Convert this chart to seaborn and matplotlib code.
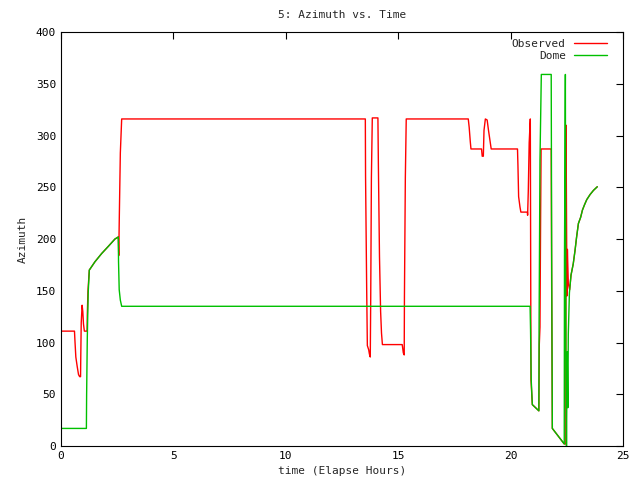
import matplotlib
matplotlib.use("Agg")
import matplotlib.pyplot as plt
import seaborn as sns
import pandas as pd

# ---- data (hours, degrees) ----
obs_t = [0.00, 0.60, 0.62, 0.66, 0.72, 0.78, 0.83, 0.87, 0.88, 0.90, 0.94, 0.97, 1.00, 1.04,
         1.16, 1.17, 1.20, 1.26, 1.51, 1.81, 2.11, 2.40, 2.55, 2.57, 2.59, 2.64, 2.70,
         13.54, 13.55, 13.60, 13.63, 13.69, 13.72, 13.76, 13.78, 13.81, 13.85,
         14.10, 14.12, 14.17, 14.22, 14.26, 14.30, 15.18, 15.20, 15.23, 15.27, 15.28, 15.32, 15.36,
         18.12, 18.16, 18.21, 18.24, 18.71, 18.74, 18.79, 18.82, 18.88, 18.96, 19.02, 19.08, 19.14,
         20.31, 20.33, 20.36, 20.42, 20.46, 20.75, 20.76, 20.79, 20.83, 20.88, 20.91, 20.97,
         21.26, 21.28, 21.31, 21.34, 21.36, 21.81, 21.83, 21.86, 22.39, 22.46, 22.47, 22.49,
         22.51, 22.53, 22.57, 22.63, 22.69, 22.79, 22.87, 22.94, 23.02, 23.12, 23.20, 23.29,
         23.39, 23.54, 23.69, 23.86]
obs_az = [111, 111, 102, 86, 77, 69, 67, 67, 86, 119, 136, 130, 118, 111,
          111, 126, 150, 170, 178, 186, 193, 200, 202, 184, 215, 283, 316,
          316, 261, 152, 97, 93, 89, 86, 143, 259, 317,
          317, 273, 183, 130, 109, 98, 98, 95, 90, 88, 144, 259, 316,
          316, 308, 294, 287, 287, 280, 280, 305, 316, 315, 305, 296, 287,
          287, 271, 241, 231, 226, 226, 223, 246, 293, 316, 64, 40,
          34, 98, 115, 226, 287, 287, 154, 17, 2, 2, 310, 225,
          145, 190, 157, 151, 165, 176, 189, 202, 215, 221, 228, 233,
          238, 243, 247, 250.5]

dome_t = [0.00, 1.13, 1.14, 1.17, 1.21, 1.26, 1.51, 1.81, 2.11, 2.40, 2.55, 2.56, 2.59, 2.64, 2.70,
          20.87, 20.89, 20.92, 20.97, 21.26, 21.27, 21.31, 21.37, 21.81, 21.83, 21.86,
          22.39, 22.40, 22.44, 22.46, 22.49, 22.52, 22.55, 22.57, 22.62, 22.69, 22.79, 22.87,
          22.94, 23.02, 23.12, 23.20, 23.29, 23.39, 23.54, 23.69, 23.86]
dome_az = [17, 17, 49, 104, 148, 170, 178, 186, 193, 200, 202, 178, 151, 141, 135,
           135, 113, 64, 40, 34, 115, 276, 359, 359, 188, 17,
           2, 180, 359, 91, 0, 91, 37, 108, 148, 165, 176, 189,
           202, 215, 221, 228, 233, 238, 243, 247, 250.5]

series_names = ["Observed", "Dome"]
series_colors = ["#ff0000", "#00c000"]

df = pd.concat([
    pd.DataFrame({"t": obs_t, "az": obs_az, "src": "Observed"}),
    pd.DataFrame({"t": dome_t, "az": dome_az, "src": "Dome"}),
])

sns.set_style("white")
plt.rcParams["font.family"] = ["DejaVu Sans Mono"]

fig = plt.figure(figsize=(6.4, 4.8), dpi=100)
ax = fig.add_axes([0.0953, 0.0708, 0.878, 0.8625])

sns.lineplot(data=df, x="t", y="az", hue="src", hue_order=series_names,
             palette=series_colors, sort=False, estimator=None,
             linewidth=1, ax=ax)

ax.set_xlim(0, 25)
ax.set_ylim(0, 400)
ax.set_xticks(range(0, 26, 5))
ax.set_yticks(range(0, 401, 50))
ax.tick_params(direction="in", length=5, width=0.8, labelsize=8, top=True, right=True,
               colors="black")
for s in ax.spines.values():
    s.set_color("black")
    s.set_linewidth(0.8)

ax.set_title("5: Azimuth vs. Time", fontsize=8, pad=10)
ax.set_xlabel("time (Elapse Hours)", fontsize=8, labelpad=4)
ax.set_ylabel("Azimuth", fontsize=8, labelpad=6)

# gnuplot-style key: text first, then the line sample
ax.legend(loc="upper right", bbox_to_anchor=(0.9715, 0.983), frameon=False, markerfirst=False,
          fontsize=8, handlelength=3.0, borderaxespad=0, borderpad=0,
          labelspacing=0.15, handletextpad=0.7)

fig.savefig("out.png", dpi=100)
